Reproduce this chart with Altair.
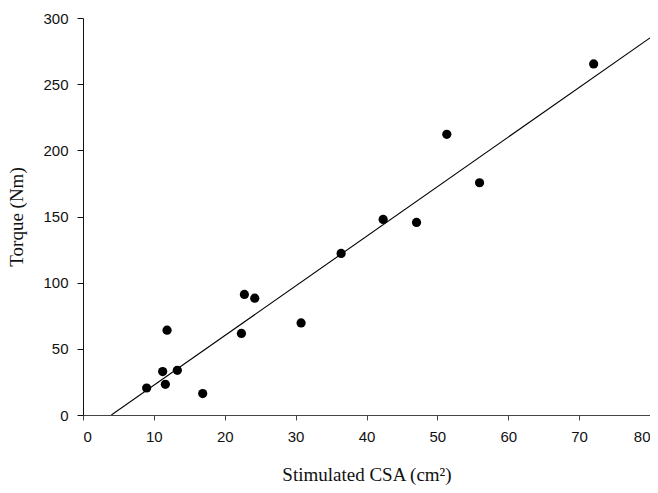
import altair as alt
import pandas as pd

csa = [8.98, 11.24, 11.62, 11.86, 13.31, 16.89, 22.35, 22.77, 24.23, 30.77, 36.42, 42.35, 47.06, 51.33, 55.95, 72.05]
torque = [20.4, 32.8, 23.2, 64.1, 33.8, 16.2, 61.6, 91.1, 88.3, 69.6, 122.1, 147.8, 145.5, 212.1, 175.5, 265.3]
fit_x = [4.0, 80.0]
fit_y = [0.0, 285.0]

pts = pd.DataFrame({"x": csa, "y": torque})
fit = pd.DataFrame({"x": fit_x, "y": fit_y})

xs = alt.Scale(domain=[0, 80], nice=False, zero=False)
ys = alt.Scale(domain=[0, 300], nice=False, zero=False)

xaxis = alt.Axis(values=list(range(0, 81, 10)), grid=False, domainColor="#444", tickColor="#444",
                 tickSize=5, labelFont="Liberation Sans", labelFontSize=15, labelColor="#111",
                 labelPadding=9, title="Stimulated CSA (cm²)", titleFont="Liberation Serif",
                 titleFontSize=19, titleFontWeight="normal", titleColor="#111", titlePadding=21)
yaxis = alt.Axis(values=list(range(0, 301, 50)), grid=False, domainColor="#111", tickColor="#111",
                 tickSize=6, labelFont="Liberation Sans", labelFontSize=15, labelColor="#111",
                 labelPadding=9, title="Torque (Nm)", titleFont="Liberation Serif",
                 titleFontSize=19, titleFontWeight="normal", titleColor="#111", titlePadding=16)

line = alt.Chart(fit).mark_line(color="black", strokeWidth=1.1, clip=True).encode(
    x=alt.X("x:Q", scale=xs, axis=xaxis),
    y=alt.Y("y:Q", scale=ys, axis=yaxis),
)
points = alt.Chart(pts).mark_circle(color="black", opacity=1, size=85).encode(
    x=alt.X("x:Q", scale=xs),
    y=alt.Y("y:Q", scale=ys),
)

chart = (line + points).properties(
    width=567, height=397,
    padding={"left": 75, "top": 10, "right": 0, "bottom": 70},
    autosize=alt.AutoSizeParams(type="none"),
).configure(background="white").configure_view(stroke=None)

chart.save("out.html", embed_options={"renderer": "svg", "actions": False})
